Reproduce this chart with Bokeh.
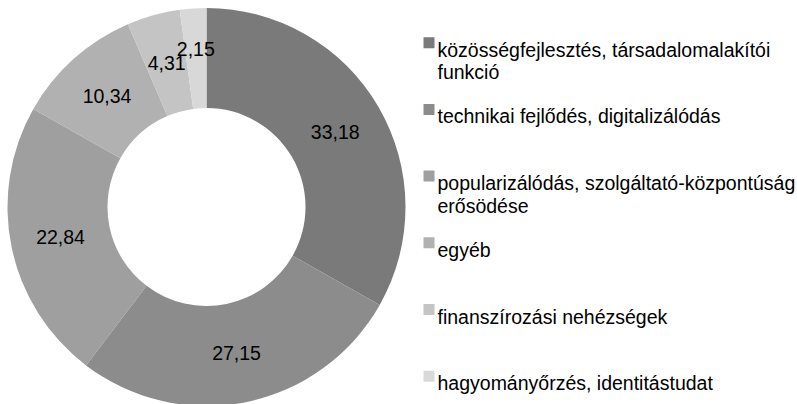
import math
from bokeh.plotting import figure
from bokeh.models import Range1d, ColumnDataSource
from bokeh.core.properties import value
from bokeh.embed import file_html
from bokeh.resources import INLINE

# ---- data ----
categories = [
    "közösségfejlesztés, társadalomalakítói\nfunkció",
    "technikai fejlődés, digitalizálódás",
    "popularizálódás, szolgáltató-központúság\nerősödése",
    "egyéb",
    "finanszírozási nehézségek",
    "hagyományőrzés, identitástudat",
]
values = [33.18, 27.15, 22.84, 10.34, 4.31, 2.15]
value_labels = ["33,18", "27,15", "22,84", "10,34", "4,31", "2,15"]
colors = ["#7a7a7a", "#8c8c8c", "#9f9f9f", "#b1b1b1", "#c4c4c4", "#d8d8d8"]

# ---- layout (pixel-like data space) ----
W, H = 797, 404
FS = 19.5
p = figure(width=W, height=H, output_backend="svg", toolbar_location=None,
           x_range=Range1d(0, W), y_range=Range1d(0, H),
           x_axis_location=None, y_axis_location=None, min_border=0)
p.outline_line_color = None
p.xgrid.visible = False
p.ygrid.visible = False
p.background_fill_color = "white"

cx, cy = 206, H - 206.5
r_out, r_in = 199, 99
total = sum(values)

starts, ends, lx, ly = [], [], [], []
boxes = []
cum = 0.0
for v, lab in zip(values, value_labels):
    a0 = math.pi / 2 - 2 * math.pi * cum / total
    a1 = math.pi / 2 - 2 * math.pi * (cum + v) / total
    starts.append(a0)
    ends.append(a1)
    mid = (a0 + a1) / 2
    hw = 0.52 * FS * len(lab) / 2
    hh = 0.36 * FS
    rm = (r_out + r_in) / 2
    # push label outward if it collides with an earlier label
    while True:
        x = cx + rm * math.cos(mid)
        y = cy + rm * math.sin(mid)
        clash = any(abs(x - bx) < hw + bw and abs(y - by) < hh + bh
                    for bx, by, bw, bh in boxes)
        if not clash or rm > r_out - 25:
            break
        rm += 1
    boxes.append((x, y, hw, hh))
    lx.append(x)
    ly.append(y)
    cum += v

src = ColumnDataSource(dict(start=starts, end=ends, color=colors))
p.annular_wedge(x=cx, y=cy, inner_radius=r_in, outer_radius=r_out,
                start_angle="start", end_angle="end", direction="clock",
                fill_color="color", line_color=None, source=src)

p.text(x=lx, y=ly, text=value_labels, text_align="center", text_baseline="middle",
       text_font=value("Liberation Sans"), text_font_size=f"{FS}px", text_color="#000000")

# ---- legend ----
leg_x_sq = 428.5
leg_x_txt = 437
leg_y0 = H - 42.2
leg_step = 66.7
line_h = 22.5
sq_x, sq_y, sq_c = [], [], []
tx, ty, tt = [], [], []
for i, (cat, col) in enumerate(zip(categories, colors)):
    yc = leg_y0 - i * leg_step
    sq_x.append(leg_x_sq)
    sq_y.append(yc)
    sq_c.append(col)
    for j, line in enumerate(cat.split("\n")):
        tx.append(leg_x_txt)
        ty.append(yc - 7 - j * line_h)
        tt.append(line)

p.rect(x=sq_x, y=sq_y, width=11, height=11, fill_color=sq_c, line_color=None)
p.text(x=tx, y=ty, text=tt, text_align="left", text_baseline="alphabetic",
       text_font=value("Liberation Sans"), text_font_size=f"{FS}px", text_color="#000000")

open("out.html", "w").write(file_html(p, INLINE))
